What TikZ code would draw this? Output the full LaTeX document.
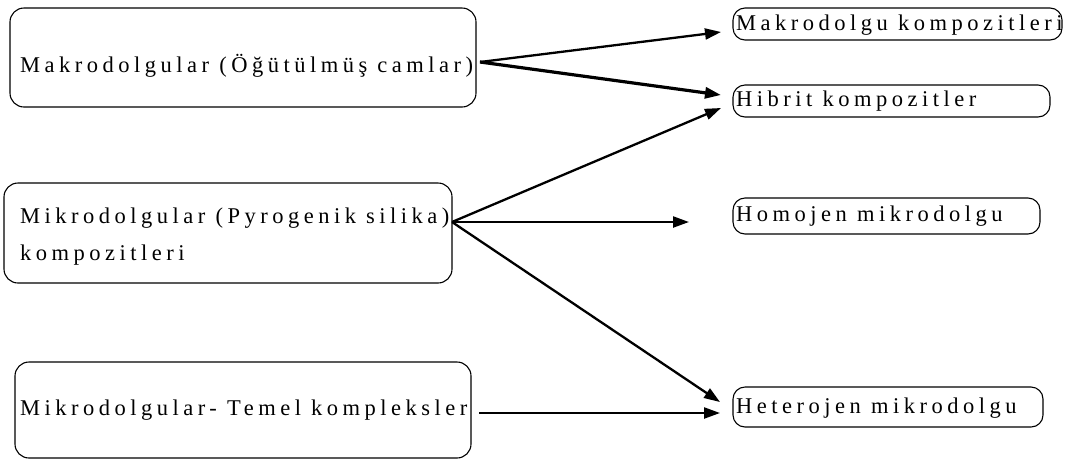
\documentclass[tikz,border=0pt]{standalone}
\usepackage{fontspec}
\setmainfont{Liberation Serif}[LetterSpace=20]
\usetikzlibrary{arrows.meta}
\begin{document}
\begin{tikzpicture}[x=1pt,y=-1pt,
  bigbox/.style={draw, line width=1.1pt, rounded corners=14pt, inner sep=0pt},
  smallbox/.style={draw, line width=1.1pt, rounded corners=12pt, inner sep=0pt},
  lbl/.style={anchor=west, inner sep=0pt, font=\fontsize{22.5}{26}\selectfont},
  conn/.style={line width=2.3pt, -{Triangle[length=16pt,width=11pt]}},
  thickconn/.style={line width=3.2pt, -{Triangle[length=16pt,width=11pt]}}]
\fill[white] (0,0) rectangle (1073,459);
\useasboundingbox (0,0) rectangle (1073,459);
% left boxes
\node[bigbox, minimum width=466pt, minimum height=99pt] (b1) at (243,57.5) {};
\node[bigbox, minimum width=448pt, minimum height=100pt] (b2) at (228,233) {};
\node[bigbox, minimum width=456pt, minimum height=96pt] (b3) at (243,410) {};
\node[lbl] (t1) at (20,66) {Makrodolgular (Öğütülmüş camlar)};
\node[lbl] (t2a) at (20,218) {Mikrodolgular (Pyrogenik silika)};
\node[lbl] (t2b) at (20,255) {kompozitleri};
\node[lbl] (t3) at (20,410) {Mikrodolgular- Temel kompleksler};
% right boxes
\node[smallbox, minimum width=329pt, minimum height=32pt] (r1) at (897.5,24) {};
\node[smallbox, minimum width=317pt, minimum height=32pt] (r2) at (891.5,101) {};
\node[smallbox, minimum width=307pt, minimum height=36pt] (r3) at (886.5,216) {};
\node[smallbox, minimum width=310pt, minimum height=40pt] (r4) at (888,407) {};
\node[lbl] (s1) at (736,25) {Makrodolgu kompozitleri};
\node[lbl] (s2) at (736,101) {Hibrit kompozitler};
\node[lbl] (s3) at (736,216) {Homojen mikrodolgu};
\node[lbl] (s4) at (736,408) {Heterojen mikrodolgu};
% connector coordinates
\coordinate (o1) at (480,62);
\coordinate (o2) at (452,222);
\coordinate (o3) at (479,413);
\coordinate (e1) at (721,32);
\coordinate (e2) at (721,95);
\coordinate (e3) at (721,108);
\coordinate (e4) at (689,222);
\coordinate (e5) at (720,402);
\coordinate (e6) at (720,413);
\draw[conn] (o1) -- (e1);
\draw[thickconn] (o1) -- (e2);
\draw[conn] (o2) -- (e3);
\draw[conn] (o2) -- (e4);
\draw[conn] (o2) -- (e5);
\draw[conn] (o3) -- (e6);
\end{tikzpicture}
\end{document}
